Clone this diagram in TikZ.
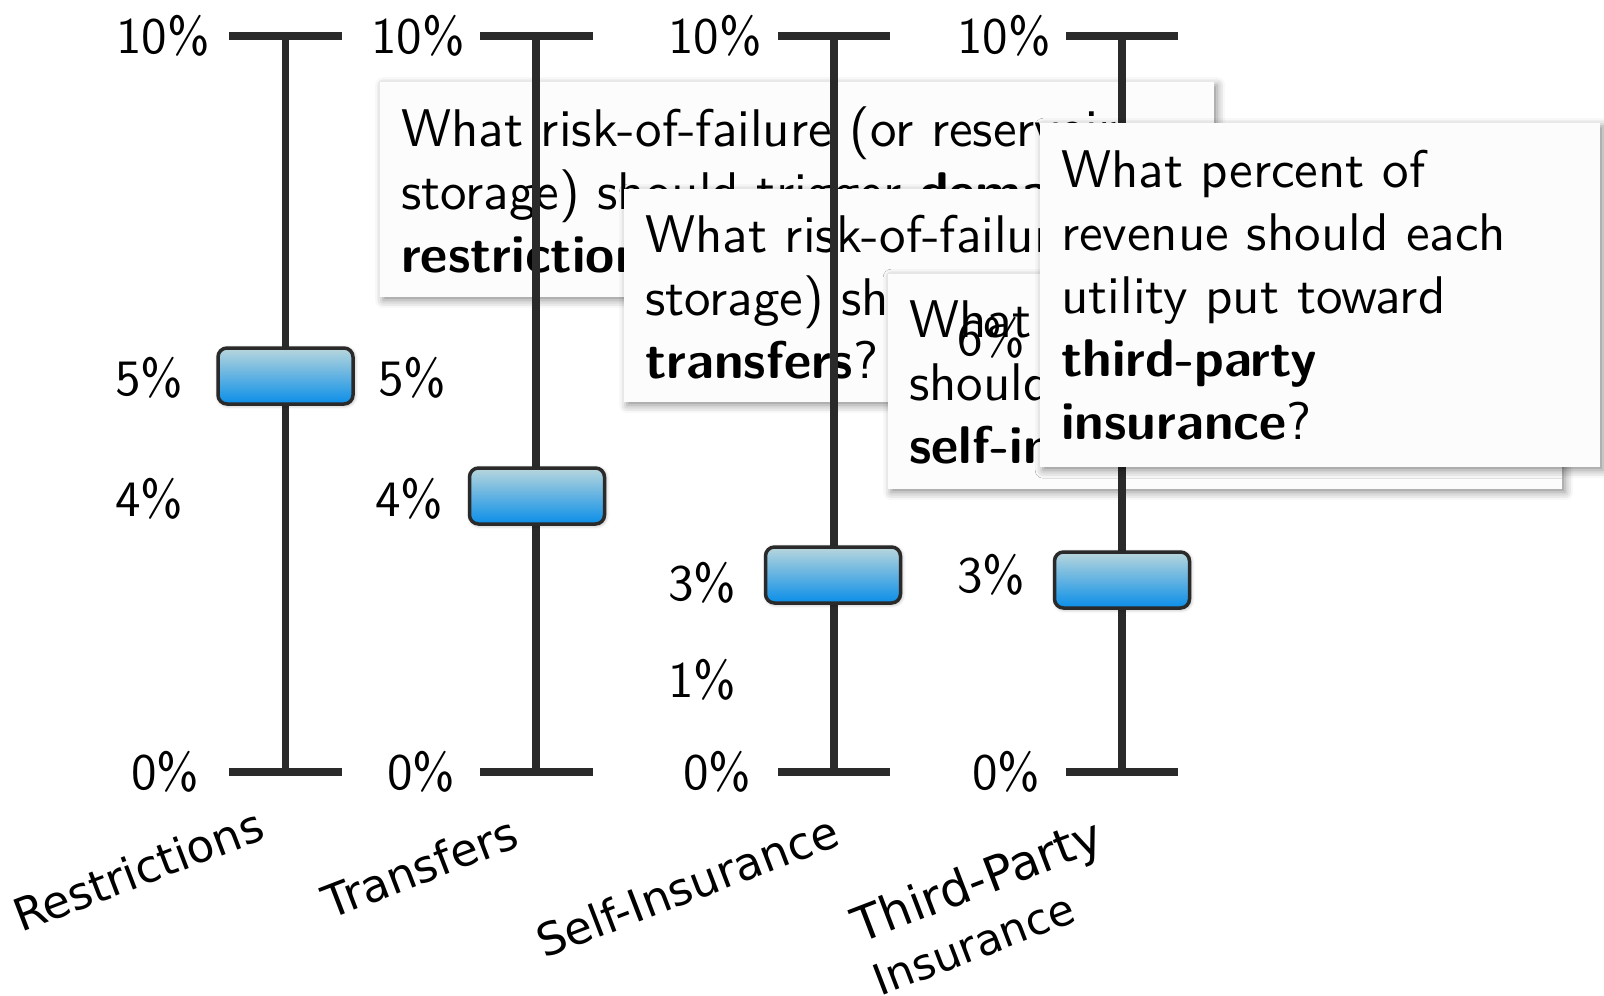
\documentclass[tikz,border=0pt]{standalone}
\usepackage{fontspec}
\setsansfont{lmsans10-regular.otf}[BoldFont=lmsans10-bold.otf]
\newfontfamily\djv{DejaVu Sans}
\usetikzlibrary{shadows.blur}
\definecolor{rail}{HTML}{2A2A2A}
\definecolor{knobtop}{HTML}{B8D6DC}
\definecolor{knobbot}{HTML}{0A8EE8}
\definecolor{boxfill}{HTML}{FCFCFC}
\begin{document}
\begin{tikzpicture}[x=1pt,y=-1pt,
  railline/.style={draw=rail, line width=7.5pt},
  knob/.style={draw=rail, line width=3.5pt, rounded corners=9pt, minimum width=135pt, minimum height=56pt, top color=knobtop, bottom color=knobbot, inner sep=0pt, blur shadow={shadow xshift=1pt, shadow yshift=-1pt, shadow blur radius=4pt, shadow opacity=40}},
  pct/.style={anchor=west, inner sep=0pt, font=\sffamily\fontsize{51}{61}\selectfont},
  qbox/.style={anchor=north west, fill=boxfill, inner xsep=21pt, inner ysep=0pt, align=left, font=\sffamily\fontsize{53}{63}\selectfont, blur shadow={shadow xshift=3pt, shadow yshift=-3pt, shadow blur radius=8pt, shadow opacity=45}},
  cat/.style={font=\djv\fontsize{45}{57}\selectfont, rotate=21, align=left, inner sep=0pt}
]
\useasboundingbox (0,0) rectangle (1604,996);

% question boxes behind the sliders
\node[qbox, minimum width=834pt, minimum height=215pt, text width=792pt] (q1) at (380,82) {What risk-of-failure (or reservoir\\ storage) should trigger \textbf{demand}\\ \textbf{restrictions}?};
\node[qbox, minimum width=834pt, minimum height=213pt, text width=792pt] (q2) at (624,189) {What risk-of-failure (or reservoir\\ storage) should trigger\\ \textbf{transfers}?};
\node[qbox, minimum width=674pt, minimum height=215pt, text width=632pt] (q3) at (888,274) {What percent of revenue\\ should go toward\\ \textbf{self-insurance}?};

% column 1
\coordinate (t1) at (285.5,36); \coordinate (b1) at (285.5,772);
\coordinate (t1l) at (229,36); \coordinate (t1r) at (342,36);
\coordinate (b1l) at (229,772); \coordinate (b1r) at (342,772);
\draw[railline] (t1) -- (b1);
\draw[railline] (t1l) -- (t1r);
\draw[railline] (b1l) -- (b1r);
\node[knob] (k1) at (285.5,376) {};
\node[pct] (l1a) at (116,36) {10\%};
\node[pct] (l1b) at (115,378) {5\%};
\node[pct] (l1c) at (115,499) {4\%};
\node[pct] (l1d) at (131,772) {0\%};

% column 2
\coordinate (t2) at (536,36); \coordinate (b2) at (536,772);
\coordinate (t2l) at (480,36); \coordinate (t2r) at (593,36);
\coordinate (b2l) at (480,772); \coordinate (b2r) at (593,772);
\draw[railline] (t2) -- (b2);
\draw[railline] (t2l) -- (t2r);
\draw[railline] (b2l) -- (b2r);
\node[knob] (k2) at (537,496) {};
\node[pct] (l2a) at (371,36) {10\%};
\node[pct] (l2b) at (378,378) {5\%};
\node[pct] (l2c) at (375,499) {4\%};
\node[pct] (l2d) at (387,772) {0\%};

% column 3
\coordinate (t3) at (834,36); \coordinate (b3) at (834,772);
\coordinate (t3l) at (778,36); \coordinate (t3r) at (890,36);
\coordinate (b3l) at (778,772); \coordinate (b3r) at (890,772);
\draw[railline] (t3) -- (b3);
\draw[railline] (t3l) -- (t3r);
\draw[railline] (b3l) -- (b3r);
\node[knob] (k3) at (833,575) {};
\node[pct] (l3a) at (668,36) {10\%};
\node[pct] (l3b) at (668,583) {3\%};
\node[pct] (l3c) at (668,680) {1\%};
\node[pct] (l3d) at (683,772) {0\%};

% column 4
\coordinate (t4) at (1122,36); \coordinate (b4) at (1122,772);
\coordinate (t4l) at (1066,36); \coordinate (t4r) at (1178,36);
\coordinate (b4l) at (1066,772); \coordinate (b4r) at (1178,772);
\draw[railline] (t4) -- (b4);
\draw[railline] (t4l) -- (t4r);
\draw[railline] (b4l) -- (b4r);
\node[knob] (k4) at (1122,580) {};
\node[pct] (l4a) at (957,36) {10\%};
\node[pct] (l4b) at (957,338) {6\%};
\node[pct] (l4c) at (957,575) {3\%};
\node[pct] (l4d) at (972,772) {0\%};

% front box
\node[qbox, minimum width=560pt, minimum height=344pt, text width=518pt] (q4) at (1040,123) {What percent of\\ revenue should each\\ utility put toward\\ \textbf{third-party}\\ \textbf{insurance}?};

% category labels
\node[cat] (c1) at (138,870) {Restrictions};
\node[cat] (c2) at (420,867) {Transfers};
\node[cat] (c3) at (687,886) {Self-Insurance};
\node[cat] (c4) at (987,906) {{\fontsize{48}{57}\selectfont Third-Party}\\{\fontsize{43}{57}\selectfont Insurance}};
\end{tikzpicture}
\end{document}
